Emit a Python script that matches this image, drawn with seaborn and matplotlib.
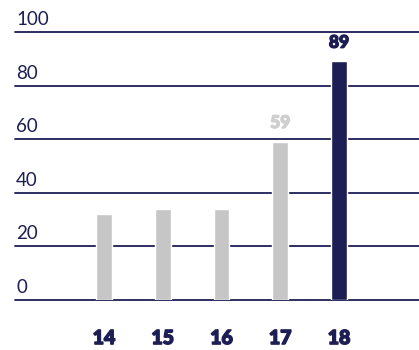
import matplotlib
matplotlib.use("Agg")
import matplotlib.pyplot as plt
import matplotlib.transforms as mtransforms
import matplotlib.patheffects as pe
import seaborn as sns
import pandas as pd

# Data
years = ["14", "15", "16", "17", "18"]
values = [32, 34, 34, 59, 89]
bar_colors = ["#c6c6c6", "#c6c6c6", "#c6c6c6", "#c6c6c6", "#1c1e54"]
labelled = {"17": "#cfcfcf", "18": "#1c1e54"}
y_ticks = [0, 20, 40, 60, 80, 100]

NAVY = "#1c1e54"

sns.set_theme(style="white")
plt.rcParams["font.family"] = ["Lato", "DejaVu Sans"]

fig = plt.figure(figsize=(4.19, 3.5), dpi=100)
ax = fig.add_axes([15 / 419, 1 - 299.5 / 350, 1 - 15 / 419, (299.5 - 32) / 350])

df = pd.DataFrame({"year": years, "value": values})
sns.barplot(data=df, x="year", y="value", hue="year", palette=bar_colors,
            legend=False, width=0.27, ax=ax, saturation=1)

ax.set_ylim(0, 100)
ax.set_xlim(-1.515, 5.36)
for s in ax.spines.values():
    s.set_visible(False)

# Horizontal rules with labels sitting on them
trans = mtransforms.blended_transform_factory(ax.transAxes, ax.transData)
for t in y_ticks:
    ax.axhline(t, color=NAVY, lw=1.3, zorder=0.5, clip_on=False)
    ax.text(0.003, t + 1.4, str(t), transform=trans, ha="left", va="bottom",
            fontsize=13.5, color=NAVY, clip_on=False)
ax.set_yticks([])
ax.set_ylabel("")
ax.set_xlabel("")

# Category labels, heavy weight
ax.tick_params(axis="x", length=0, pad=22)
ax.set_xticks(range(len(years)))
ax.set_xticklabels(years, fontsize=14, fontweight="black", color=NAVY)
for lbl in ax.get_xticklabels():
    lbl.set_path_effects([pe.withStroke(linewidth=1.1, foreground=NAVY)])

# Value labels above highlighted bars
for i, (yr, v) in enumerate(zip(years, values)):
    if yr in labelled:
        ax.text(i, v + 4, str(v), ha="center", va="bottom", fontsize=12.5,
                fontweight="black", color=labelled[yr],
                path_effects=[pe.withStroke(linewidth=1.0, foreground=labelled[yr])])

fig.savefig("out.png", dpi=100)
